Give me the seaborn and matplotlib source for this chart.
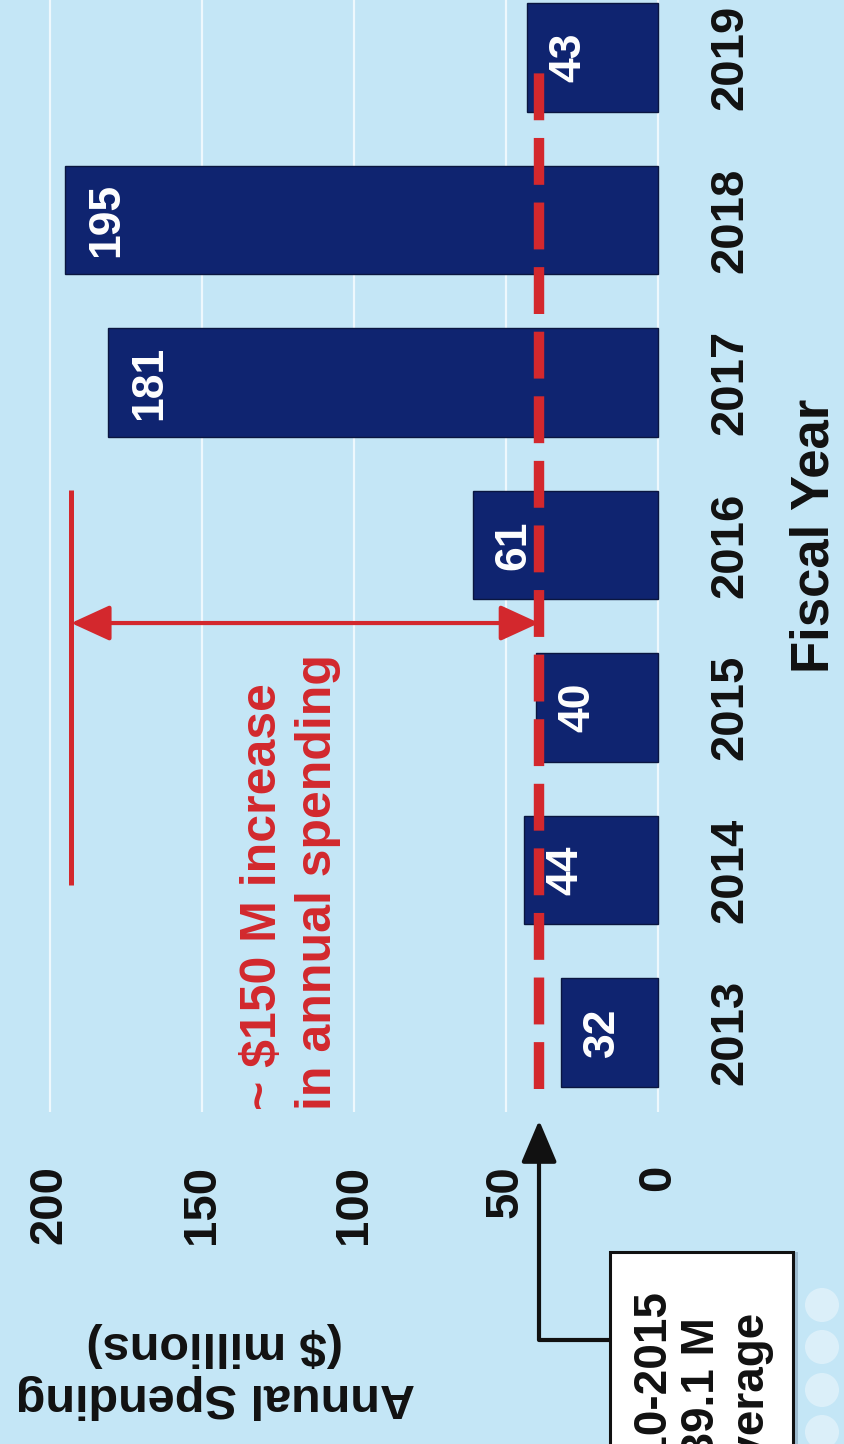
import matplotlib
matplotlib.use('Agg')
import matplotlib.pyplot as plt
from matplotlib import font_manager
from matplotlib.patches import Rectangle, Circle
import seaborn as sns
import pandas as pd

# data
years = ['2013', '2014', '2015', '2016', '2017', '2018', '2019']
spending = [32, 44, 40, 61, 181, 195, 43]
avg_2010_2015 = 39.1
increase_level = 193
value_ticks = [0, 50, 100, 150, 200]

BG = '#c4e6f6'
NAVY = '#0f2470'
RED = '#d3282d'


def pick_font(names):
    for name in names:
        try:
            font_manager.findfont(font_manager.FontProperties(family=name), fallback_to_default=False)
            return name
        except ValueError:
            continue
    return 'DejaVu Sans'


narrow = pick_font(['Liberation Sans Narrow', 'Liberation Sans', 'DejaVu Sans'])
sans = pick_font(['Liberation Sans', 'DejaVu Sans'])
num_size = 42 if narrow == 'Liberation Sans Narrow' else 34

df = pd.DataFrame({'Year': years, 'Spending': spending})
order = years[::-1]  # 2019 on top

fig = plt.figure(figsize=(8.45, 14.44), dpi=100, facecolor=BG)
ax = fig.add_axes([0, 1 - 1112 / 1444, 660 / 845, 1112 / 1444])
ax.set_facecolor(BG)

sns.barplot(data=df, x='Spending', y='Year', order=order, orient='h',
            color=NAVY, width=0.67, saturation=1, edgecolor='#0a1640',
            linewidth=1, ax=ax, zorder=2)

ax.set_xlim(216.4, -0.66)
ax.set_ylim(6.489, -0.354)

# grid + axes cosmetics
ax.set_xticks(value_ticks)
ax.grid(axis='x', color='#eef8fd', lw=1.6)
ax.grid(axis='y', visible=False)
ax.set_axisbelow(True)
for s in ax.spines.values():
    s.set_visible(False)

ax.yaxis.tick_right()
ax.tick_params(axis='y', length=0, pad=35, labelrotation=90, labelsize=num_size)
ax.tick_params(axis='x', length=0, pad=38, labelrotation=90, labelsize=num_size)
for lab in ax.get_yticklabels() + ax.get_xticklabels():
    lab.set_fontfamily(narrow)
    lab.set_fontweight('bold')
    lab.set_color('#111111')
for lab in ax.get_yticklabels():
    lab.set_va('center')

ax.set_ylabel('')
ax.set_xlabel('Annual Spending\n($ millions)', fontsize=35, fontweight='bold',
              family=sans, rotation=180, color='#111111', linespacing=1.2)
ax.xaxis.set_label_coords(215 / 660, (1112 - 1322) / 1112)
ax.text(815 / 660, (1112 - 536) / 1112, 'Fiscal Year', transform=ax.transAxes,
        rotation=90, ha='center', va='center', fontsize=38, fontweight='bold',
        family=sans, color='#111111')

# value labels inside bars
for i, yr in enumerate(order):
    v = spending[years.index(yr)]
    ax.annotate(str(v), xy=(v, i), xytext=(30, 0), textcoords='offset points',
                rotation=90, ha='center', va='center', color='white',
                fontsize=num_size - 2, fontweight='bold', family=narrow, zorder=5)

# 2010-2015 average line
ax.plot([avg_2010_2015, avg_2010_2015], [6.35, 0.03], color=RED, lw=7.5,
        dashes=(4.5, 1.7), solid_capstyle='butt', dash_capstyle='butt', zorder=4)

# increase marker
ax.plot([increase_level, increase_level], [2.66, 5.09], color=RED, lw=3.6,
        solid_capstyle='butt', zorder=4)
ax.annotate('', xy=(increase_level, 3.48), xytext=(avg_2010_2015, 3.48),
            arrowprops=dict(arrowstyle='<|-|>,head_length=1.2,head_width=0.55',
                            color=RED, lw=3, shrinkA=0, shrinkB=0,
                            mutation_scale=20), zorder=4)
ax.text(121, 6.477, '~ \\$150 M increase\nin annual spending', rotation=90,
        ha='center', va='bottom', multialignment='left', color=RED,
        fontsize=36, fontweight='bold', family=sans, linespacing=1.25, zorder=4)

# callout box (figure-inch coordinates, origin bottom-left), cut by the lower edge
H = 14.44
fig.add_artist(Rectangle((6.15, -0.2), 1.83, (H - 12.52) + 0.2,
                         transform=fig.dpi_scale_trans, facecolor='#6f8aa3',
                         edgecolor='none', alpha=0.45, zorder=1))
fig.add_artist(Rectangle((6.10, -0.2), 1.83, (H - 12.52) + 0.2,
                         transform=fig.dpi_scale_trans, facecolor='white',
                         edgecolor='#111111', lw=2.2, zorder=2))
fig.text(7.02 / 8.45, (H - 14.00) / H, '2010-2015\n\\$39.1 M\nAverage', rotation=90,
         ha='center', va='center', multialignment='center', fontsize=33,
         fontweight='bold', family=sans, linespacing=1.15, color='#111111', zorder=3)

ax.annotate('', xy=(avg_2010_2015, 6.54), xycoords='data',
            xytext=(610, 1444 - 1340), textcoords='figure pixels',
            arrowprops=dict(arrowstyle='-|>,head_length=1.3,head_width=0.55',
                            connectionstyle='angle,angleA=180,angleB=90,rad=0',
                            color='#111111', lw=3, shrinkA=0, shrinkB=0,
                            mutation_scale=20), annotation_clip=False, zorder=4)

# faint decorative dots at lower right
for yy in [1305, 1347, 1390, 1432]:
    fig.add_artist(Circle((8.22, (1444 - yy) / 100), 0.17, transform=fig.dpi_scale_trans,
                          facecolor='white', edgecolor='none', alpha=0.4, zorder=1))

fig.savefig('out.png', dpi=100, facecolor=BG)
